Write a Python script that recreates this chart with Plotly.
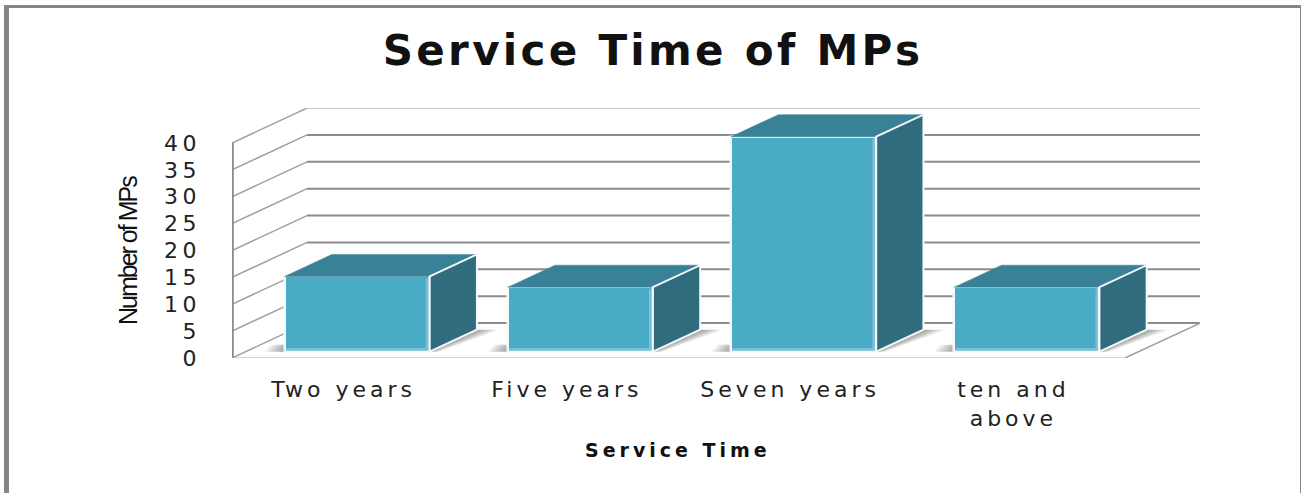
import plotly.graph_objects as go

categories = ["Two years", "Five years", "Seven years", "ten and<br>above"]
mps = [14, 12, 40, 12]
y_ticks = [0, 5, 10, 15, 20, 25, 30, 35, 40]

FRONT = "#4AABC7"
TOP = "#388196"
SIDE = "#316C7E"
STRIP = "#7CC0D4"
GRID = "#8C8C8C"

# depth of the fake 3D box, in axis units
DEPTH_X = 0.336
DEPTH_Y = 6.5
BAR_W = 0.65
BAR_NEAR = 0.18
BAR_FAR = 0.81
X0 = -0.5
X_END = 3.5

L, R, T, B = 232, 102, 108, 135
W, H = 1302, 493
X_MAX = X0 + (W - L - R) / 223.25
Y_MAX = (H - T - B) / 5.375


def px(x):
    return (x - L) / (W - L - R)


def py(y):
    return (H - B - y) / (H - T - B)


def sp(text, gap):
    return f'<span style="letter-spacing:{gap}px">{text}</span>'


def depth(x, y, frac):
    return x + DEPTH_X * frac, y + DEPTH_Y * frac


def path(points):
    return "M" + " L".join(f"{x},{y}" for x, y in points) + " Z"


shapes = []


def line(x0, y0, x1, y1, color=GRID, width=2):
    shapes.append(dict(type="line", xref="x", yref="y", x0=x0, y0=y0, x1=x1, y1=y1,
                       layer="below", line=dict(color=color, width=width)))


# walls
for v in y_ticks:
    bx, by = depth(X0, v, 1)
    c = "#C8C8C8" if v == 40 else GRID
    line(bx, by, X_MAX, by, c, 2)
    line(X0, v, bx, by, "#A0A0A0", 1.5)
line(X_END, 0, X_END + DEPTH_X, DEPTH_Y, "#A0A0A0", 1.5)
line(X0, 0, X0, 40, "#8A8A8A", 3.5)
line(X0, -0.2, X_END, -0.2, "#ABABAB", 3)

# floor shadows, stacked from wide and pale to narrow and dark
for i, v in enumerate(mps):
    left = i - BAR_W / 2
    right = left + BAR_W
    for k in range(8):
        grow = 1 - k / 8
        a = depth(right, 0, BAR_NEAR)
        b = depth(right, 0, BAR_FAR)
        c = (b[0] + 0.1 * grow, b[1])
        d = (a[0] + 0.04 * grow, a[1])
        shapes.append(dict(type="path", xref="x", yref="y", layer="below", path=path([a, b, c, d]),
                           fillcolor="rgba(60,60,60,0.07)", line=dict(width=0)))
        n = depth(left, 0, BAR_NEAR)
        e = (n[0] - 0.09 * grow, n[1])
        f = (e[0] + 0.03, n[1] + 1.3)
        g = (n[0], n[1] + 1.3)
        shapes.append(dict(type="path", xref="x", yref="y", layer="below", path=path([n, e, f, g]),
                           fillcolor="rgba(60,60,60,0.07)", line=dict(width=0)))

# page frame, open at the bottom
for x0, y0, x1, y1 in [(4, 5, 1300.5, 8), (4, 5, 9, 493), (1300, 5, 1301, 493)]:
    shapes.append(dict(type="rect", xref="paper", yref="paper", x0=px(x0), x1=px(x1), y0=py(y0), y1=py(y1),
                       fillcolor="#868686", line=dict(width=0), layer="below"))

fig = go.Figure()

near_y = DEPTH_Y * BAR_NEAR
near_x = DEPTH_X * BAR_NEAR
xs = [i + near_x for i in range(len(mps))]

fig.add_trace(go.Bar(
    x=xs,
    y=mps,
    base=[near_y] * len(mps),
    width=BAR_W,
    marker=dict(color=FRONT, line=dict(color="#F4FAFC", width=2.5)),
    hoverinfo="skip",
    showlegend=False,
))

span = BAR_FAR - BAR_NEAR
for x, v in zip(xs, mps):
    left = x - BAR_W / 2
    right = x + BAR_W / 2
    top = near_y + v
    dx = DEPTH_X * span
    dy = DEPTH_Y * span
    fig.add_trace(go.Scatter(
        x=[left, right, right + dx, left + dx, left],
        y=[top, top, top + dy, top + dy, top],
        mode="lines", fill="toself", fillcolor=TOP,
        line=dict(color=TOP, width=0.5),
        hoverinfo="skip", showlegend=False,
    ))
    fig.add_trace(go.Scatter(
        x=[right, right + dx, right + dx, right, right],
        y=[near_y, near_y + dy, top + dy, top, near_y],
        mode="lines", fill="toself", fillcolor=SIDE,
        line=dict(color="#F4FAFC", width=2),
        hoverinfo="skip", showlegend=False,
    ))
    # lighter bevel along the right and bottom of the front face
    fig.add_trace(go.Scatter(
        x=[left + 0.006, right - 0.012, right - 0.012],
        y=[near_y + 0.45, near_y + 0.45, top - 0.4],
        mode="lines", line=dict(color=STRIP, width=2.5),
        hoverinfo="skip", showlegend=False,
    ))

fig.update_layout(
    width=W,
    height=H,
    autosize=False,
    margin=dict(l=L, r=R, t=T, b=B),
    paper_bgcolor="white",
    plot_bgcolor="white",
    bargap=0,
    shapes=shapes,
    font=dict(family="DejaVu Sans", color="#222222"),
    title=dict(
        text=sp("<b>Service Time of MPs</b>", 3.3),
        font=dict(family="DejaVu Sans", size=42, color="#111111"),
        x=653 / W, xanchor="center", xref="container",
        y=1 - 50 / H, yanchor="middle",
    ),
    xaxis=dict(
        range=[X0, X_MAX],
        tickvals=list(range(len(categories))),
        ticktext=[sp(c, 4) for c in categories],
        showgrid=False, zeroline=False, showline=False, ticks="",
        ticklabelstandoff=16,
        tickfont=dict(size=22, color="#222222"),
    ),
    yaxis=dict(
        range=[0, Y_MAX],
        tickvals=y_ticks,
        ticktext=[sp(v, 4.5) for v in y_ticks],
        showgrid=False, zeroline=False, showline=False, ticks="",
        ticklabelstandoff=30,
        tickfont=dict(size=22, color="#222222"),
    ),
    annotations=[
        dict(text=sp("<b>Service Time</b>", 4), xref="paper", yref="paper", x=px(678), y=py(450),
             xanchor="center", yanchor="middle", showarrow=False,
             font=dict(family="DejaVu Sans", size=19, color="#111111")),
        dict(text=sp("Number of MPs", -2), xref="paper", yref="paper", x=px(128), y=py(251),
             xanchor="center", yanchor="middle", showarrow=False, textangle=-90,
             font=dict(family="Liberation Sans", size=25, color="#111111")),
    ],
)

# the page's default body margin would push the figure off by 8px
fig.write_html("out.html", config=dict(displayModeBar=False), post_script="document.body.style.margin='0';")
